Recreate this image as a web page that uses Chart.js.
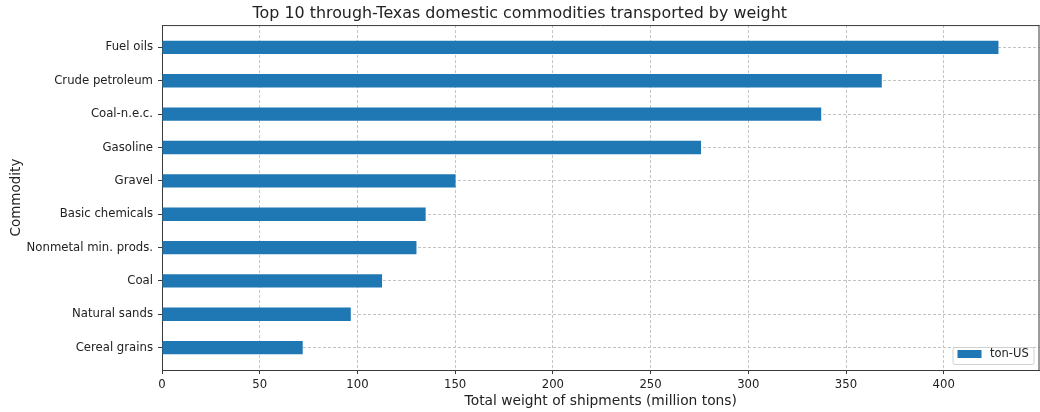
<!DOCTYPE html>
<html>
<head>
<meta charset="utf-8">
<script src="https://cdn.jsdelivr.net/npm/chart.js@4/dist/chart.umd.min.js"></script>
<style>
  html, body { margin: 0; padding: 0; background: #fff; }
  canvas { display: block; }
</style>
</head>
<body>
<canvas id="commodityChart" width="1040" height="412"></canvas>
<script>
// top to bottom, as in the picture
const commodities = [
    "Fuel oils",
    "Crude petroleum",
    "Coal-n.e.c.",
    "Gasoline",
    "Gravel",
    "Basic chemicals",
    "Nonmetal min. prods.",
    "Coal",
    "Natural sands",
    "Cereal grains",
];
const weights = [428, 368.3, 337.3, 275.8, 150.2, 134.9, 130.2, 112.6, 96.6, 72.0];
const seriesLabel = "ton-US";
const xTicks = [0, 50, 100, 150, 200, 250, 300, 350, 400];

const FONT = "'DejaVu Sans', 'Liberation Sans', sans-serif";
const BAR_COLOR = "#1f77b4";
const SPINE = "#3a3a3a";
const GRID = "#c4c4c4";
const TEXT = "#222";

// top and right spines, plus the legend box in the lower right corner
const framePlugin = {
    id: "frame",
    afterDraw(chart) {
        const { ctx, chartArea: a } = chart;
        ctx.save();
        ctx.strokeStyle = SPINE;
        ctx.lineWidth = 1;
        ctx.beginPath();
        ctx.moveTo(a.left, a.top + 0.5);
        ctx.lineTo(a.right, a.top + 0.5);
        ctx.moveTo(a.right - 0.5, a.top);
        ctx.lineTo(a.right - 0.5, a.bottom);
        ctx.stroke();

        // legend
        const w = 81, h = 17;
        const x = a.right - 5.5 - w, y = a.bottom - 5.5 - h;
        ctx.fillStyle = "rgba(255,255,255,0.85)";
        ctx.strokeStyle = "#d0d0d0";
        ctx.beginPath();
        ctx.roundRect(x, y, w, h, 2);
        ctx.fill();
        ctx.stroke();
        ctx.fillStyle = BAR_COLOR;
        ctx.fillRect(x + 4.5, y + 2.5, 24, 8);
        ctx.fillStyle = TEXT;
        ctx.font = "11.5px " + FONT;
        ctx.textBaseline = "middle";
        ctx.fillText(chart.data.datasets[0].label, x + 37, y + 7);
        ctx.restore();
    },
};

new Chart(document.getElementById("commodityChart").getContext("2d"), {
    type: "bar",

    data: {
        datasets: [
            {
                label: seriesLabel,

                data: weights.map((v, i) => ({ x: v, y: i })),

                backgroundColor: BAR_COLOR,

                borderWidth: 0,

                barPercentage: 0.4,

                categoryPercentage: 1,
            },
        ],
    },

    options: {
        indexAxis: "y",

        responsive: false,

        animation: false,

        layout: {
            padding: { left: 0, right: 0.5, top: 0, bottom: 0 },
        },

        scales: {
            x: {
                type: "linear",

                position: "bottom",

                min: 0,

                max: 449,

                z: 1,

                afterFit(scale) {
                    scale.height = 42;
                },

                afterBuildTicks(scale) {
                    scale.ticks = xTicks.map((v) => ({ value: v }));
                },

                ticks: {
                    font: { family: FONT, size: 11.7 },
                    color: TEXT,
                    padding: 4,
                    maxRotation: 0,
                },

                grid: {
                    color: GRID,
                    tickColor: SPINE,
                    tickLength: 4,
                    tickBorderDash: [],
                },

                border: {
                    color: SPINE,
                    dash: [3, 2],
                },

                title: {
                    display: true,
                    text: "Total weight of shipments (million tons)",
                    font: { family: FONT, size: 13.8 },
                    color: TEXT,
                    padding: { top: 0, bottom: 2 },
                },
            },

            y: {
                type: "linear",

                reverse: true,

                offset: false,

                min: -0.67,

                max: 9.67,

                z: 1,

                afterFit(scale) {
                    scale.width = 162;
                },

                afterBuildTicks(scale) {
                    scale.ticks = commodities.map((_, i) => ({ value: i }));
                },

                ticks: {
                    font: { family: FONT, size: 11.7 },
                    color: TEXT,
                    padding: 5,
                    autoSkip: false,
                    callback: (v) => commodities[v],
                },

                grid: {
                    offset: false,
                    color: GRID,
                    tickColor: SPINE,
                    tickLength: 4,
                    tickBorderDash: [],
                },

                border: {
                    color: SPINE,
                    dash: [3, 2],
                },

                title: {
                    display: true,
                    text: "Commodity",
                    font: { family: FONT, size: 13.5 },
                    color: TEXT,
                    padding: { top: 8, bottom: 0 },
                },
            },
        },

        plugins: {
            legend: {
                display: false,
            },

            tooltip: {
                enabled: false,
            },

            title: {
                display: true,
                text: "Top 10 through-Texas domestic commodities transported by weight",
                font: { family: FONT, size: 15.9, weight: "normal" },
                color: TEXT,
                padding: { top: 4, bottom: 2 },
            },
        },
    },

    plugins: [framePlugin],
});
</script>
</body>
</html>
